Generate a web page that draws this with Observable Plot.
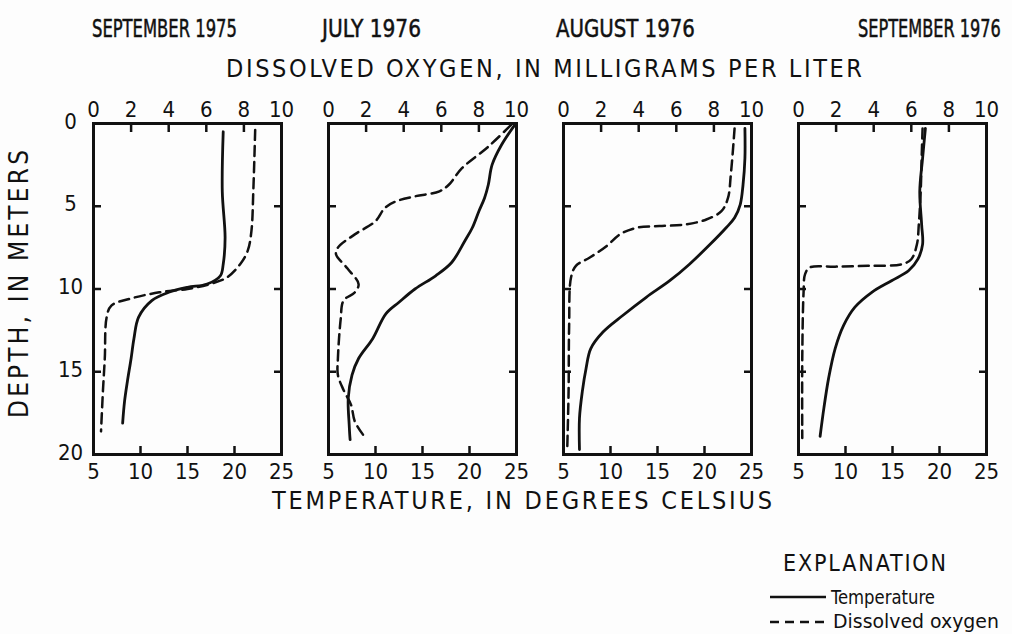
<!DOCTYPE html>
<html><head><meta charset="utf-8">
<script src="https://cdn.jsdelivr.net/npm/d3@7"></script>
<script src="https://cdn.jsdelivr.net/npm/@observablehq/plot@0.6"></script>
<style>
body{margin:0;background:#fff;}
#wrap{position:relative;width:1012px;height:634px;overflow:hidden;background:#fdfdfd;}
#chart{position:absolute;left:0;top:0;}
#labels{position:absolute;left:0;top:0;pointer-events:none;}
#labels text{font-family:"Liberation Sans Narrow","DejaVu Sans Condensed","Liberation Sans",sans-serif;fill:#111;}
</style></head><body>
<div id="wrap"><div id="chart"></div>
<svg id="labels" width="1012" height="634"></svg></div>
<script>
// ---- categories and tick labels ----
const months = ["SEPTEMBER 1975", "JULY 1976", "AUGUST 1976", "SEPTEMBER 1976"];
const doTicks = [0, 2, 4, 6, 8, 10];          // dissolved oxygen, mg/L (top axis)
const tempTicks = [5, 10, 15, 20, 25];        // temperature, deg C (bottom axis)
const depthTicks = [0, 5, 10, 15, 20];        // depth, m
const seriesNames = ["Temperature", "Dissolved oxygen"];

// ---- September 1975 ----
const sep75TempDepth = [0.5, 4.1, 6.9, 8.5, 9.2, 9.7, 9.9, 10.2, 10.7, 11.7, 13.0, 14.2, 15.6, 16.8, 18.1];
const sep75Temp      = [18.8, 18.7, 19.0, 18.8, 18.5, 17.1, 15.0, 13.0, 11.2, 9.8, 9.3, 9.0, 8.6, 8.3, 8.1];
const sep75DoDepth   = [0.4, 4.1, 6.5, 7.7, 8.5, 9.3, 9.7, 10.0, 10.2, 10.6, 11.0, 11.7, 14.2, 16.2, 18.6];
const sep75Do        = [8.6, 8.5, 8.4, 8.2, 7.8, 7.1, 6.2, 5.0, 3.5, 1.9, 0.95, 0.7, 0.6, 0.5, 0.4];

// ---- July 1976 ----
const jul76TempDepth = [0.1, 1.3, 2.5, 3.7, 4.5, 5.3, 6.3, 7.1, 8.4, 9.2, 10.0, 10.8, 11.5, 13.0, 14.2, 15.2, 16.6, 18.2, 19.1];
const jul76Temp      = [24.8, 23.4, 22.4, 22.0, 21.6, 21.0, 20.3, 19.5, 18.1, 16.4, 14.2, 12.5, 11.1, 9.7, 8.2, 7.5, 7.1, 7.2, 7.3];
const jul76DoDepth   = [0.1, 1.4, 2.7, 3.7, 4.1, 4.4, 4.7, 5.1, 5.9, 6.7, 7.5, 7.9, 8.75, 9.7, 10.2, 10.7, 11.8, 14.2, 15.2, 16.1, 17.0, 18.0, 18.9];
const jul76Do        = [9.7, 8.5, 7.1, 6.4, 5.9, 4.6, 3.6, 3.0, 2.5, 1.4, 0.5, 0.4, 1.0, 1.6, 1.4, 0.8, 0.65, 0.5, 0.5, 0.8, 1.2, 1.4, 1.9];

// ---- August 1976 ----
const aug76TempDepth = [0.3, 2.1, 3.7, 4.9, 5.7, 6.3, 7.3, 8.5, 9.5, 10.5, 11.6, 12.6, 13.6, 14.8, 16.2, 17.8, 19.7];
const aug76Temp      = [24.3, 24.3, 24.1, 23.8, 23.2, 22.3, 20.6, 18.4, 16.3, 13.8, 11.3, 9.2, 7.9, 7.4, 7.0, 6.7, 6.7];
const aug76DoDepth   = [0.3, 3.1, 4.5, 5.3, 5.8, 6.1, 6.2, 6.3, 6.7, 7.4, 8.1, 8.6, 9.3, 12.2, 16.2, 19.6];
const aug76Do        = [9.1, 8.9, 8.75, 8.4, 7.6, 6.5, 5.1, 3.9, 3.0, 2.3, 1.4, 0.66, 0.4, 0.3, 0.27, 0.2];

// ---- September 1976 ----
const sep76TempDepth = [0.3, 2.1, 4.1, 6.1, 7.3, 8.2, 8.9, 9.5, 10.2, 11.1, 12.2, 13.6, 15.4, 17.2, 18.9];
const sep76Temp      = [18.5, 18.2, 17.9, 18.1, 18.2, 17.7, 16.7, 14.9, 12.8, 11.0, 9.8, 8.9, 8.2, 7.7, 7.3];
const sep76DoDepth   = [0.3, 2.1, 4.1, 6.1, 7.3, 8.2, 8.5, 8.6, 8.65, 8.7, 9.1, 10.2, 14.2, 19.0];
const sep76Do        = [6.6, 6.55, 6.5, 6.4, 6.3, 6.0, 5.5, 3.7, 1.95, 0.6, 0.35, 0.27, 0.2, 0.2];

// ---- build tables ----
const tempSets = [[sep75TempDepth, sep75Temp], [jul76TempDepth, jul76Temp], [aug76TempDepth, aug76Temp], [sep76TempDepth, sep76Temp]];
const doSets = [[sep75DoDepth, sep75Do], [jul76DoDepth, jul76Do], [aug76DoDepth, aug76Do], [sep76DoDepth, sep76Do]];
const tempRows = tempSets.flatMap(([dep, val], i) => dep.map((d, j) => ({month: months[i], depth: d, temp: val[j]})));
const doRows = doSets.flatMap(([dep, val], i) => dep.map((d, j) => ({month: months[i], depth: d, oxygen: val[j]})));

// the shared x scale is temperature; oxygen maps linearly onto it (0..10 mg/L <-> 5..25 C)
const doToTemp = (o) => tempTicks[0] + o * (tempTicks[tempTicks.length - 1] - tempTicks[0]) / doTicks[doTicks.length - 1];
const tempToDo = (t) => (t - tempTicks[0]) * doTicks[doTicks.length - 1] / (tempTicks[tempTicks.length - 1] - tempTicks[0]);

const FONT = '"Liberation Sans Narrow","DejaVu Sans Condensed","Liberation Sans",sans-serif';
const INK = "#111";

const chart = Plot.plot({
  width: 1012,
  height: 500,
  marginLeft: 92, marginRight: 24, marginTop: 123, marginBottom: 46,
  style: {fontFamily: FONT, background: "transparent", color: INK, overflow: "visible"},
  fx: {domain: months, paddingInner: 0.198, paddingOuter: 0, axis: null, label: null},
  x: {domain: [tempTicks[0], tempTicks[tempTicks.length - 1]], label: null},
  y: {domain: [depthTicks[0], depthTicks[depthTicks.length - 1]], reverse: true, label: null},
  marks: [
    Plot.frame({stroke: INK, strokeWidth: 3}),
    // inward tick marks
    Plot.axisX({anchor: "top", ticks: doTicks.slice(1, -1).map(doToTemp), tickSize: -8, tickFormat: () => "", strokeWidth: 2.5, label: null}),
    Plot.axisX({anchor: "bottom", ticks: tempTicks.slice(1, -1), tickSize: -8, tickFormat: () => "", strokeWidth: 2.5, label: null}),
    Plot.axisY({anchor: "left", ticks: depthTicks.slice(1, -1), tickSize: -8, tickFormat: () => "", strokeWidth: 2.5, facetAnchor: null, label: null}),
    Plot.axisY({anchor: "right", ticks: depthTicks.slice(1, -1), tickSize: -8, tickFormat: () => "", strokeWidth: 2.5, facetAnchor: null, label: null}),
    // tick labels
    Plot.axisX({anchor: "top", ticks: doTicks.map(doToTemp), tickFormat: (t) => String(Math.round(tempToDo(t))), tickSize: 0, tickPadding: 7, fontSize: 22, fill: INK, label: null}),
    Plot.axisX({anchor: "bottom", ticks: tempTicks, tickSize: 0, tickPadding: 9, fontSize: 22, fill: INK, label: null}),
    Plot.axisY({anchor: "left", ticks: depthTicks, tickSize: 0, tickPadding: 23, textAnchor: "middle", dy: -2, fontSize: 22, fill: INK, label: null}),
    // profiles
    Plot.line(tempRows, {fx: "month", x: "temp", y: "depth", stroke: INK, strokeWidth: 2.8, curve: "catmull-rom"}),
    Plot.line(doRows, {fx: "month", x: (d) => doToTemp(d.oxygen), y: "depth", stroke: INK, strokeWidth: 2.5, strokeDasharray: "10,6", curve: "catmull-rom"})
  ]
});
document.getElementById("chart").appendChild(chart);

// ---- titles, axis titles and explanation (legend) ----
const svg = d3.select("#labels");
// text squeezed horizontally (by a transform) to a target width, like the condensed lettering of the original
function squeezed(str, x, y, size, width, rotate) {
  const t = svg.append("text").attr("font-size", size).text(str);
  const w = t.node().getComputedTextLength();
  const s = Math.min(1.6, width / w);
  t.attr("transform", `translate(${x},${y})${rotate ? " rotate(" + rotate + ")" : ""} scale(${s},1)`);
  return t;
}
// letter-spaced text fitted to a target width
function spaced(str, x, y, size, width, rotate) {
  const t = svg.append("text").attr("font-size", size).text(str)
    .attr("textLength", width).attr("lengthAdjust", "spacing");
  t.attr("transform", `translate(${x},${y})${rotate ? " rotate(" + rotate + ")" : ""}`);
  return t;
}
const titleX = [92, 322, 556, 858];
const titleW = [145, 99, 139, 143];
months.forEach((m, i) => squeezed(m, titleX[i], 37, 25, titleW[i]).attr("stroke", INK).attr("stroke-width", 0.5));
spaced("DISSOLVED OXYGEN, IN MILLIGRAMS PER LITER", 226, 77, 25, 636);
spaced("TEMPERATURE, IN DEGREES CELSIUS", 272, 509, 25, 500);
spaced("DEPTH, IN METERS", 28, 418, 26, 268, -90);
spaced("EXPLANATION", 783, 571, 23, 163);
svg.append("line").attr("x1", 770).attr("x2", 826).attr("y1", 597).attr("y2", 597).attr("stroke", INK).attr("stroke-width", 2.6);
svg.append("line").attr("x1", 770).attr("x2", 828).attr("y1", 622).attr("y2", 622).attr("stroke", INK).attr("stroke-width", 2.4).attr("stroke-dasharray", "9,6");
squeezed(seriesNames[0], 831, 604, 20, 104);
squeezed(seriesNames[1], 833, 628, 20, 166);
</script>
</body></html>
